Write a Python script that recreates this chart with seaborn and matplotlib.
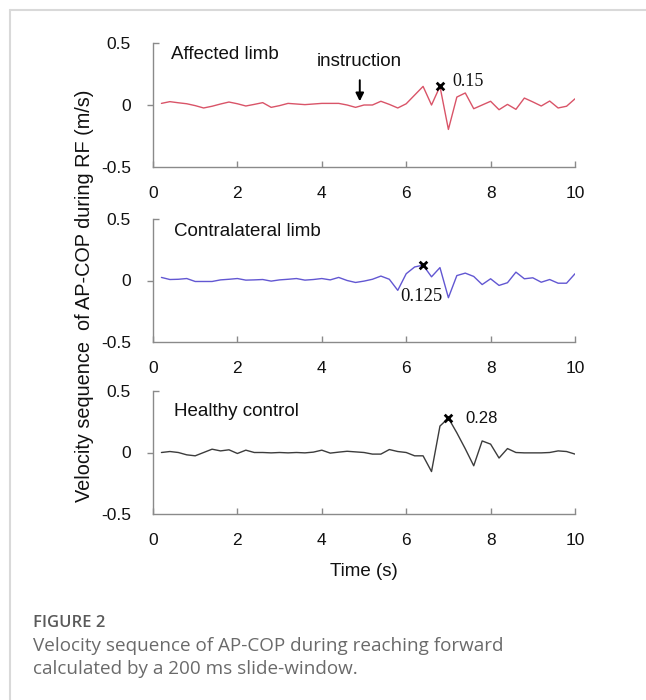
import matplotlib
matplotlib.use("Agg")
import matplotlib.pyplot as plt
import matplotlib.lines as mlines
import numpy as np
import pandas as pd
import seaborn as sns

# Time stamps of the 200 ms slide-window (s)
time_s = [0.2, 0.4, 0.6, 0.8, 1.0, 1.2, 1.4, 1.6, 1.8, 2.0,
          2.2, 2.4, 2.6, 2.8, 3.0, 3.2, 3.4, 3.6, 3.8, 4.0,
          4.2, 4.4, 4.6, 4.8, 5.0, 5.2, 5.4, 5.6, 5.8, 6.0,
          6.2, 6.4, 6.6, 6.8, 7.0, 7.2, 7.4, 7.6, 7.8, 8.0,
          8.2, 8.4, 8.6, 8.8, 9.0, 9.2, 9.4, 9.6, 9.8, 10.0]

# AP-COP velocity (m/s)
affected = [0.013, 0.027, 0.018, 0.010, -0.005, -0.024, -0.010, 0.008, 0.024, 0.010,
            -0.008, 0.005, 0.019, -0.019, -0.005, 0.013, 0.008, 0.003, 0.008, 0.013,
            0.013, 0.013, 0.000, -0.019, 0.000, 0.000, 0.030, 0.005, -0.024, 0.010,
            0.080, 0.150, 0.000, 0.150, -0.197, 0.064, 0.097, -0.030, 0.000, 0.030,
            -0.038, 0.005, -0.035, 0.056, 0.025, -0.008, 0.032, -0.024, -0.010, 0.050]

contralateral = [0.025, 0.008, 0.010, 0.016, -0.008, -0.008, -0.008, 0.005, 0.010, 0.016,
                 0.003, 0.005, 0.008, -0.005, 0.005, 0.010, 0.016, 0.003, 0.008, 0.016,
                 0.005, 0.025, 0.000, -0.016, -0.005, 0.010, 0.036, 0.010, -0.080, 0.055,
                 0.110, 0.125, 0.030, 0.105, -0.140, 0.040, 0.060, 0.033, -0.033, 0.014,
                 -0.040, -0.018, 0.068, 0.014, 0.022, -0.014, 0.008, -0.022, -0.022, 0.055]

healthy = [0.000, 0.008, 0.000, -0.019, -0.027, 0.000, 0.027, 0.013, 0.022, -0.008,
           0.019, 0.000, 0.000, -0.003, 0.000, -0.003, 0.000, -0.003, 0.003, 0.019,
           -0.005, 0.003, 0.010, 0.005, 0.000, -0.013, -0.013, 0.024, 0.008, 0.000,
           -0.027, -0.027, -0.155, 0.215, 0.280, 0.160, 0.030, -0.108, 0.094, 0.068,
           -0.045, 0.032, 0.000, -0.003, -0.003, -0.003, 0.000, 0.013, 0.008, -0.013]

panel_titles = ["Affected limb", "Contralateral limb", "Healthy control"]
peak_times = [6.8, 6.4, 7.0]
peak_labels = ["0.15", "0.125", "0.28"]
instruction_time = 4.9

x_ticks = [0, 2, 4, 6, 8, 10]
y_ticks = [-0.5, 0, 0.5]
y_ticklabels = ["-0.5", "0", "0.5"]

series = [affected, contralateral, healthy]
colors = ["#d95468", "#6257d2", "#3c3c3c"]

sns.set_style("white")
plt.rcParams["font.family"] = ["Liberation Sans", "DejaVu Sans"]

W, H = 646, 700
fig = plt.figure(figsize=(W / 100, H / 100), dpi=100)

# panel boxes in pixels: (top, bottom)
boxes = [(43, 167), (219, 342), (391, 514)]
left_px, right_px = 153, 575

spine_col = "#8a8a8a"
axes = []
for i, (top, bot) in enumerate(boxes):
    ax = fig.add_axes([left_px / W, 1 - bot / H, (right_px - left_px) / W, (bot - top) / H])
    df = pd.DataFrame({"t": time_s, "v": series[i]})
    sns.lineplot(data=df, x="t", y="v", ax=ax, color=colors[i], lw=1.0)
    ax.set_xlim(0, 10)
    ax.set_ylim(-0.5, 0.5)
    ax.set_xlabel("")
    ax.set_ylabel("")
    for s in ["top", "right"]:
        ax.spines[s].set_visible(False)
    for s in ["left", "bottom"]:
        ax.spines[s].set_color(spine_col)
        ax.spines[s].set_linewidth(1.0)
    ax.set_xticks(x_ticks)
    ax.set_xticklabels([str(v) for v in x_ticks])
    ax.set_yticks(y_ticks)
    ax.set_yticklabels(y_ticklabels)
    ax.tick_params(axis="x", bottom=True, direction="in", length=4, width=1,
                   color=spine_col, labelsize=12.5, pad=14, labelcolor="#111111")
    ax.tick_params(axis="y", left=True, direction="in", length=4, width=1,
                   color=spine_col, labelsize=12.5, pad=16, labelcolor="#111111")
    # the zero tick points outward
    yt = ax.yaxis.get_major_ticks()
    yt[1].tick1line.set_marker(mlines.TICKLEFT)
    yt[0].tick1line.set_visible(False)

    # panel title
    ty = [0.41, 0.40, 0.33][i]
    tx = [0.43, 0.50, 0.50][i]
    ax.text(tx, ty, panel_titles[i], fontsize=13.5, color="#111111",
            ha="left", va="center")

    # peak marker and value
    k = time_s.index(peak_times[i])
    pv = series[i][k]
    ax.scatter([peak_times[i]], [pv], marker="x", s=30, color="black",
               linewidths=2.0, zorder=5)
    axes.append(ax)

# value labels next to peaks
axes[0].text(peak_times[0] + 0.3, 0.19, peak_labels[0], fontsize=13,
             family=["Liberation Serif"], ha="left", va="center", color="#111111")
axes[1].text(peak_times[1] - 0.55, -0.13, peak_labels[1], fontsize=13.5,
             family=["Liberation Serif"], ha="left", va="center", color="#111111")
axes[2].text(peak_times[2] + 0.4, 0.28, peak_labels[2], fontsize=12,
             ha="left", va="center", color="#111111")

# instruction arrow
axes[0].annotate("", xy=(instruction_time, 0.03), xytext=(instruction_time, 0.2),
                 arrowprops=dict(arrowstyle="-|>", color="black", lw=1.4,
                                 mutation_scale=12, shrinkA=0, shrinkB=0))
axes[0].text(instruction_time, 0.35, "instruction", fontsize=13.5, ha="center",
             va="center", color="#111111")

# shared axis labels
fig.text(85 / W, 1 - 296 / H, "Velocity sequence  of AP-COP during RF (m/s)",
         rotation=90, ha="center", va="center", fontsize=14.3, color="#111111")
fig.text(364 / W, 1 - 572 / H, "Time (s)", ha="center", va="center",
         fontsize=13.5, color="#111111")

# card frame
fig.add_artist(mlines.Line2D([10 / W, 1], [1 - 10 / H, 1 - 10 / H],
                             color="#d9d9d9", lw=1.5, transform=fig.transFigure))
fig.add_artist(mlines.Line2D([10 / W, 10 / W], [0, 1 - 10 / H],
                             color="#d9d9d9", lw=1.5, transform=fig.transFigure))

# caption
cap_font = ["Open Sans", "DejaVu Sans"]
fig.text(33 / W, 1 - 627 / H, "FIGURE 2", family=cap_font, fontsize=12,
         weight="semibold", color="#5a5a5a", ha="left", va="baseline")
fig.text(33 / W, 1 - 651 / H, "Velocity sequence of AP-COP during reaching forward",
         family=cap_font, fontsize=13.6, color="#6a6a6a", ha="left", va="baseline")
fig.text(33 / W, 1 - 674 / H, "calculated by a 200 ms slide-window.",
         family=cap_font, fontsize=13.6, color="#6a6a6a", ha="left", va="baseline")

fig.savefig("out.png", dpi=100, facecolor="white")
